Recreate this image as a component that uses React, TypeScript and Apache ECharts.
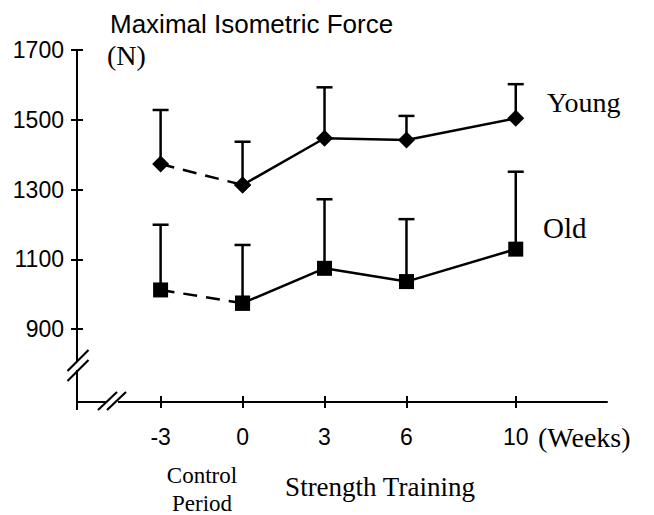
import React, { useEffect, useRef } from "react";
import * as echarts from "echarts";

const weeks = [-3, 0, 3, 6, 10];
const weekTicks = [-3, 0, 3, 6, 10];
const forceTicks = [900, 1100, 1300, 1500, 1700];
const youngMean = [1373, 1313, 1447, 1442, 1504];
const youngUpper = [1528, 1437, 1593, 1511, 1602];
const oldMean = [1012, 974, 1074, 1036, 1129];
const oldUpper = [1199, 1141, 1272, 1215, 1351];

const SANS = "Liberation Sans, Arial, Helvetica, sans-serif";
const SERIF = "Liberation Serif, Times New Roman, serif";
const INK = "#000";

function pairs(xs: number[], ys: number[], from: number, to: number) {
  const out: number[][] = [];
  for (let i = from; i < to; i++) out.push([xs[i], ys[i]]);
  return out;
}

function errRows(xs: number[], m: number[], u: number[]) {
  return xs.map((x, i) => [x, m[i], u[i]]);
}

export default function App() {
  const ref = useRef<HTMLDivElement>(null);
  useEffect(() => {
    if (!ref.current) return;
    const chart = echarts.init(ref.current, null, { renderer: "svg" });

    const errorSeries = (name: string, rows: number[][]) => ({
      name,
      type: "custom",
      z: 1,
      data: rows,
      encode: { x: 0, y: [1, 2] },
      renderItem: (params: any, api: any) => {
        const x = api.value(0);
        const m = api.value(1);
        const u = api.value(2);
        const p0 = api.coord([x, m]);
        const p1 = api.coord([x, u]);
        const hw = 8;
        return {
          type: "group",
          children: [
            {
              type: "line",
              shape: { x1: p0[0], y1: p0[1], x2: p1[0], y2: p1[1] },
              style: { stroke: INK, lineWidth: 2.5 },
            },
            {
              type: "line",
              shape: { x1: p1[0] - hw, y1: p1[1], x2: p1[0] + hw, y2: p1[1] },
              style: { stroke: INK, lineWidth: 2.5 },
            },
          ],
        };
      },
    });

    const lineSeries = (data: number[][], symbol: string, size: number, dashed: boolean) => ({
      type: "line",
      z: 3,
      data,
      symbol,
      symbolSize: size,
      showSymbol: true,
      itemStyle: { color: INK, borderWidth: 0 },
      lineStyle: { color: INK, width: 2.5, type: dashed ? [14, 9] : "solid" },
    });

    const plain = (v: number) => String(v);
    const axisCommonX = { type: "value", min: -6.06, max: 13.34, splitLine: { show: false } };
    const axisCommonY = { type: "value", min: 690.7, max: 1700, splitLine: { show: false } };

    chart.setOption({
      animation: false,
      backgroundColor: "#fff",
      grid: { left: 77, right: 47, top: 50, bottom: 113, containLabel: false },
      xAxis: [
        {
          ...axisCommonX,
          position: "bottom",
          axisLine: { show: true, onZero: false, lineStyle: { color: INK, width: 2 } },
          axisTick: { show: true, inside: false, length: 6, customValues: weekTicks, lineStyle: { color: INK, width: 2 } },
          axisLabel: {
            show: true,
            customValues: weekTicks,
            formatter: plain,
            color: INK,
            fontFamily: SANS,
            fontSize: 23,
            margin: 23,
          },
        },
        {
          ...axisCommonX,
          position: "bottom",
          axisLine: { show: false, onZero: false },
          axisTick: { show: true, inside: true, length: 6, customValues: weekTicks, lineStyle: { color: INK, width: 2 } },
          axisLabel: { show: false },
        },
      ],
      yAxis: [
        {
          ...axisCommonY,
          position: "left",
          axisLine: { show: true, onZero: false, lineStyle: { color: INK, width: 2 } },
          axisTick: { show: true, inside: false, length: 6, customValues: forceTicks, lineStyle: { color: INK, width: 2 } },
          axisLabel: {
            show: true,
            customValues: forceTicks,
            formatter: plain,
            color: INK,
            fontFamily: SANS,
            fontSize: 23,
            margin: 13,
          },
        },
        {
          ...axisCommonY,
          position: "left",
          axisLine: { show: false, onZero: false },
          axisTick: { show: true, inside: true, length: 6, customValues: forceTicks, lineStyle: { color: INK, width: 2 } },
          axisLabel: { show: false },
        },
      ],
      series: [
        errorSeries("Young SD", errRows(weeks, youngMean, youngUpper)),
        errorSeries("Old SD", errRows(weeks, oldMean, oldUpper)),
        lineSeries(pairs(weeks, youngMean, 0, 2), "diamond", 17, true),
        lineSeries(pairs(weeks, youngMean, 1, weeks.length), "diamond", 17, false),
        lineSeries(pairs(weeks, oldMean, 0, 2), "rect", 15, true),
        lineSeries(pairs(weeks, oldMean, 1, weeks.length), "rect", 15, false),
      ],
      graphic: [
        { type: "text", x: 110, y: 24, style: { text: "Maximal Isometric Force", font: `26px ${SANS}`, fill: INK, textAlign: "left", textVerticalAlign: "middle" } },
        { type: "text", x: 107, y: 55, style: { text: "(N)", font: `28px ${SERIF}`, fill: INK, textAlign: "left", textVerticalAlign: "middle" } },
        { type: "text", x: 547, y: 102, style: { text: "Young", font: `28px ${SERIF}`, fill: INK, textAlign: "left", textVerticalAlign: "middle" } },
        { type: "text", x: 543, y: 228, style: { text: "Old", font: `29px ${SERIF}`, fill: INK, textAlign: "left", textVerticalAlign: "middle" } },
        { type: "text", x: 538, y: 437, style: { text: "(Weeks)", font: `28px ${SERIF}`, fill: INK, textAlign: "left", textVerticalAlign: "middle" } },
        { type: "text", x: 202, y: 475, style: { text: "Control", font: `23px ${SERIF}`, fill: INK, textAlign: "center", textVerticalAlign: "middle" } },
        { type: "text", x: 202, y: 503, style: { text: "Period", font: `23px ${SERIF}`, fill: INK, textAlign: "center", textVerticalAlign: "middle" } },
        { type: "text", x: 380, y: 487, style: { text: "Strength Training", font: `27px ${SERIF}`, fill: INK, textAlign: "center", textVerticalAlign: "middle" } },
        // axis break on y axis
        { type: "rect", shape: { x: 72, y: 361, width: 10, height: 9 }, style: { fill: "#fff" }, z: 10 },
        { type: "line", shape: { x1: 67.5, y1: 371, x2: 88.5, y2: 350 }, style: { stroke: INK, lineWidth: 2.2 }, z: 11 },
        { type: "line", shape: { x1: 67.5, y1: 381, x2: 88.5, y2: 360 }, style: { stroke: INK, lineWidth: 2.2 }, z: 11 },
        { type: "line", shape: { x1: 77, y1: 401, x2: 77, y2: 410 }, style: { stroke: INK, lineWidth: 2 }, z: 11 },
        // axis break on x axis
        { type: "rect", shape: { x: 106, y: 396, width: 12, height: 10 }, style: { fill: "#fff" }, z: 10 },
        { type: "line", shape: { x1: 98, y1: 410, x2: 117, y2: 392 }, style: { stroke: INK, lineWidth: 2.2 }, z: 11 },
        { type: "line", shape: { x1: 107, y1: 410, x2: 126, y2: 392 }, style: { stroke: INK, lineWidth: 2.2 }, z: 11 },
      ],
    });
    return () => chart.dispose();
  }, []);

  return (
    <div
      ref={ref}
      style={{ position: "fixed", left: 0, top: 0, width: 654, height: 515, background: "#fff" }}
    />
  );
}
